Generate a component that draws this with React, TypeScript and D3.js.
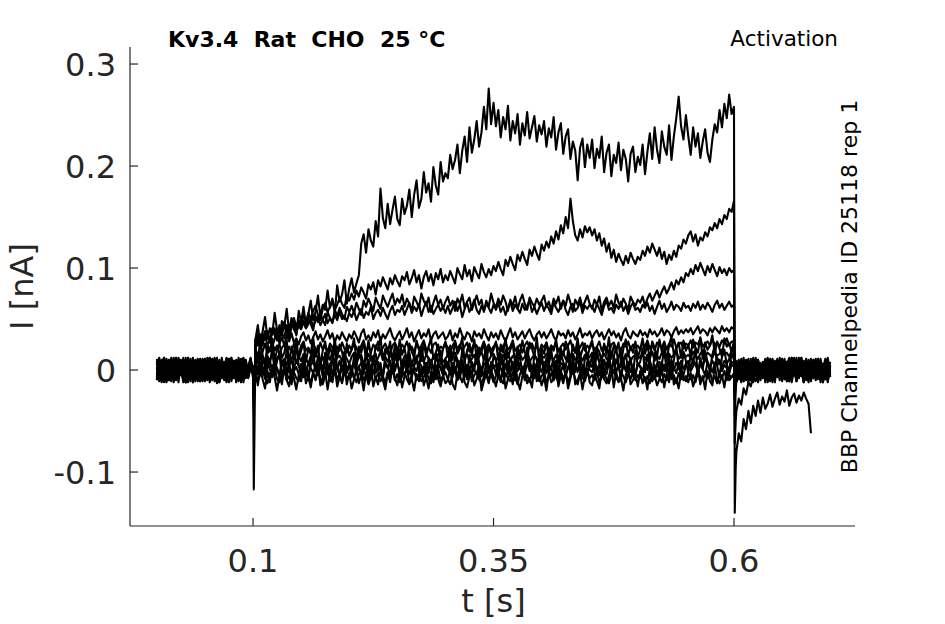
import * as d3 from "d3";

const WIDTH = 945;
const HEIGHT = 624;
const MARGIN = { top: 47, right: 90, bottom: 98, left: 130 };
const INNER_W = WIDTH - MARGIN.left - MARGIN.right;
const INNER_H = HEIGHT - MARGIN.top - MARGIN.bottom;

const X_DOMAIN: [number, number] = [-0.0279, 0.7258];
const Y_DOMAIN: [number, number] = [-0.1529, 0.3167];
const X_TICKS = [0.1, 0.35, 0.6];
const X_TICK_LABELS = ["0.1", "0.35", "0.6"];
const Y_TICKS = [-0.1, 0, 0.1, 0.2, 0.3];
const Y_TICK_LABELS = ["-0.1", "0", "0.1", "0.2", "0.3"];

const TITLE = "Kv3.4  Rat  CHO  25 °C";
const PROTOCOL = "Activation";
const SOURCE = "BBP Channelpedia ID 25118 rep 1";

// sampling 2.5 ms, step on at 0.1 s, off at 0.6 s; currents in pA (1e-3 nA)
const DT = 0.0025;
const STEP_ON = 0.1;
const STEP_OFF = 0.6;

// holding segment, t = 0 .. 0.1
const PRE_1 = [3, -8, 5, 11, -2, -10, 6, 1, -7, 9, -4, 12, -6, 2, -11, 7, -3, 10, -9, 4, -1, 8, -12, 5, -5, 11, -3, -8, 6, 0, -10, 9, 3, -6, 12, -4, -9, 5, -2, 7, 3];
const PRE_2 = [-6, 4, 10, -3, -11, 7, 2, -8, 12, -5, 0, 9, -10, 3, 6, -12, 8, -2, -7, 11, 4, -9, 1, 10, -4, -13, 6, -1, 8, -6, 11, -3, -8, 5, 2, -10, 9, -5, 4, 12, -2];
const PRE_3 = [9, -4, -11, 2, 7, -6, 12, -1, -9, 5, -3, 10, -12, 4, 8, -7, 1, 11, -5, -10, 6, -2, 9, -8, 3, 12, -6, -1, 7, -11, 2, 10, -4, -9, 6, -3, 11, -7, 1, 8, -5];
const PRE_4 = [-10, 5, 1, -7, 11, -3, 8, -12, 4, -1, 9, -6, 2, 12, -8, -4, 7, -11, 3, 10, -5, -9, 6, 0, 11, -7, 4, -2, -10, 8, -3, 12, -6, 5, -11, 2, 9, -4, -8, 6, 1];
const PRE_5 = [4, 11, -6, -2, 8, -10, 3, -5, 12, -8, 1, 7, -12, 5, -3, 10, -7, 2, -9, 6, 11, -4, -1, 9, -11, 4, 8, -6, -2, 12, -9, 3, 7, -5, 0, 10, -12, 6, -3, 9, -6];
const PRE_6 = [-3, -9, 7, 12, -5, 2, -11, 8, -1, -7, 10, -4, 5, -12, 3, 9, -6, 1, 11, -8, -2, 6, -10, 4, 12, -3, -7, 9, -5, 2, 8, -11, 0, 6, -4, 11, -9, 3, -6, 10, -4];
const PRE_7 = [11, -2, 4, -9, -5, 10, -7, 1, 8, -12, 6, -3, 12, -8, 2, -6, 9, -1, -11, 5, 7, -10, 3, 11, -4, -8, 10, -2, 5, -12, 4, 9, -6, 1, -9, 7, 12, -5, -1, 8, 2];
const PRE_8 = [-7, 3, -12, 1, 9, -4, 6, -10, 2, 11, -5, 8, -1, -9, 4, 12, -7, 5, -3, 10, -11, 2, 7, -6, 0, 9, -12, 4, -2, 11, -8, 6, -4, 10, -1, -10, 5, 8, -7, 3, -3];
const PRE_9 = [2, -10, 6, 8, -12, 5, -3, 10, -6, 1, 9, -8, -2, 12, -5, 3, -11, 7, 0, -9, 11, -4, 4, -10, 8, -1, -7, 12, -3, 6, -12, 2, 9, -5, 5, -8, 10, -2, -6, 7, 4];
const PRE_10 = [-4, 8, -9, 3, 10, -6, -1, 12, -10, 5, -2, 7, -8, 4, 11, -12, 1, 6, -5, 9, -7, 3, 12, -3, -9, 5, -11, 8, 2, -6, 10, -4, -1, 7, -10, 4, 11, -8, -2, 6, -1];
const PRE_11 = [7, -11, 2, 12, -5, 9, -8, -1, 11, -3, 5, -12, 8, 1, -7, 10, -4, -10, 6, 3, -9, 12, -2, -6, 9, 0, -11, 4, 7, -5, 11, -8, 2, -3, 10, -12, 5, 8, -6, 1, -2];
const PRE_12 = [-9, 6, -2, -12, 4, 10, -7, 3, -5, 12, -1, -10, 7, 2, -8, 11, -4, 5, -11, 9, 1, -6, 10, -3, -9, 6, -12, 3, 8, -4, 0, 12, -7, 5, -10, 2, 9, -5, -1, 11, -8];
const PRE_13 = [5, 12, -6, 0, -10, 8, -3, 11, -9, 4, -1, 7, -12, 9, 3, -5, 10, -8, 1, -11, 6, -2, 12, -7, 4, -10, 8, 2, -4, 11, -6, -1, 9, -12, 5, 3, -8, 10, -3, 7, 0];

// capacitive transients [peak, recovery] at step on / step off
const ON_SPIKE = [[-117, -35], [-40, -15], [-34, -12], [-30, -10], [-28, -9], [-24, -8], [-22, -6], [-20, -6], [-18, -8], [-15, -5], [-26, -8], [-20, -7], [-24, -9]];
const OFF_SPIKE = [[-140, -95], [-72, -50], [-45, -20], [-30, -10], [-26, -8], [-22, -8], [-20, -6], [-16, -5], [-14, -6], [-12, -4], [-18, -6], [-15, -5], [-24, -9]];

// test pulse segment, t = 0.1025 .. 0.6
const STEP_1 = [
  30, 44, 25, 38, 52, 31, 41, 35, 56, 39, 29, 48, 43, 60, 37, 51, 45, 34, 58, 47,
  62, 44, 55, 68, 49, 57, 73, 52, 64, 59, 78, 61, 70, 56, 83, 67, 74, 88, 65, 80,
  90, 76, 85, 93, 124, 133, 115, 138, 127, 121, 146, 131, 178, 149, 139, 163, 143, 157, 170, 148,
  142, 168, 153, 161, 177, 150, 172, 186, 159, 168, 194, 174, 183, 165, 199, 181, 172, 204, 185, 193,
  188, 211, 197, 206, 221, 193, 215, 229, 204, 238, 213, 226, 244, 219, 233, 258, 236, 276, 241, 262,
  239, 255, 228, 248, 236, 259, 225, 244, 232, 251, 221, 242, 230, 253, 227, 238, 249, 224, 240, 231,
  244, 219, 237, 228, 248, 216, 233, 242, 212, 229, 236, 207, 224, 215, 186, 218, 227, 199, 221, 208,
  226, 198, 217, 208, 229, 194, 213, 221, 190, 211, 203, 223, 196, 216, 207, 185, 212, 219, 194, 209,
  201, 221, 192, 214, 232, 207, 238, 216, 203, 234, 219, 211, 240, 206, 229, 247, 268, 239, 226, 250,
  229, 211, 238, 219, 232, 208, 224, 236, 213, 204, 226, 241, 233, 255, 238, 261, 247, 270, 251, 258,
];
const STEP_2 = [
  26, 35, 30, 24, 38, 33, 29, 41, 36, 31, 44, 38, 47, 40, 35, 46, 51, 43, 49, 45,
  53, 47, 56, 50, 58, 63, 54, 49, 60, 66, 57, 62, 68, 59, 64, 71, 65, 61, 73, 68,
  75, 69, 78, 72, 81, 76, 70, 84, 79, 86, 74, 88, 82, 91, 85, 79, 90, 84, 93, 87,
  82, 92, 88, 96, 84, 90, 98, 86, 93, 80, 91, 97, 87, 94, 83, 95, 89, 99, 86, 93,
  88, 97, 91, 85, 100, 94, 89, 103, 92, 98, 87, 101, 95, 90, 104, 96, 91, 99, 93, 102,
  97, 106, 99, 93, 108, 102, 111, 104, 98, 113, 107, 116, 109, 103, 118, 112, 121, 114, 108, 123,
  117, 126, 120, 131, 124, 136, 128, 142, 134, 150, 139, 168, 146, 132, 127, 138, 130, 141, 135, 140,
  132, 138, 127, 134, 122, 129, 116, 124, 110, 118, 106, 114, 108, 103, 112, 105, 115, 109, 104, 111,
  108, 117, 112, 121, 115, 124, 118, 112, 120, 109, 116, 104, 113, 108, 117, 111, 122, 119, 128, 124,
  132, 136, 126, 133, 122, 130, 127, 135, 131, 140, 137, 144, 139, 148, 143, 152, 148, 158, 155, 166,
];
const STEP_3 = [
  30, 24, 35, 28, 38, 32, 27, 40, 34, 29, 42, 36, 31, 44, 38, 46, 40, 35, 47, 42,
  48, 41, 51, 45, 39, 53, 47, 55, 49, 44, 57, 51, 46, 59, 53, 61, 55, 50, 62, 57,
  63, 56, 66, 60, 54, 68, 62, 70, 64, 58, 71, 65, 60, 73, 67, 62, 69, 75, 64, 70,
  66, 74, 62, 70, 65, 58, 72, 67, 61, 75, 68, 63, 71, 57, 66, 73, 64, 69, 60, 67,
  72, 63, 68, 58, 70, 65, 74, 61, 67, 71, 59, 66, 73, 64, 69, 57, 68, 62, 75, 66,
  61, 70, 64, 73, 67, 58, 69, 63, 72, 60, 68, 74, 65, 59, 71, 66, 62, 70, 64, 68,
  73, 62, 67, 59, 70, 65, 72, 60, 68, 63, 74, 66, 57, 69, 64, 71, 61, 67, 73, 65,
  60, 69, 64, 72, 58, 67, 71, 63, 68, 61, 74, 66, 62, 70, 65, 59, 72, 67, 63, 69,
  66, 72, 63, 70, 75, 68, 73, 78, 71, 77, 82, 75, 80, 86, 79, 88, 84, 91, 86, 95,
  92, 99, 94, 103, 97, 105, 99, 93, 102, 96, 104, 98, 92, 101, 95, 99, 93, 100, 96, 98,
];
const STEP_4 = [
  26, 32, 24, 35, 30, 38, 29, 36, 41, 33, 39, 34, 44, 37, 31, 42, 46, 38, 43, 40,
  47, 41, 45, 50, 43, 48, 52, 44, 49, 55, 46, 51, 47, 54, 49, 57, 50, 53, 48, 56,
  52, 58, 49, 55, 60, 51, 57, 54, 62, 50, 56, 59, 53, 61, 55, 50, 58, 63, 54, 59,
  57, 63, 54, 60, 66, 56, 62, 58, 65, 53, 61, 67, 57, 63, 55, 60, 64, 58, 62, 56,
  63, 55, 61, 67, 58, 64, 52, 60, 66, 57, 62, 69, 59, 55, 63, 58, 65, 61, 56, 64,
  59, 66, 57, 62, 54, 61, 67, 58, 64, 60, 56, 65, 59, 63, 68, 57, 62, 55, 61, 66,
  58, 64, 60, 55, 66, 61, 57, 63, 68, 59, 54, 62, 65, 58, 61, 67, 56, 63, 60, 64,
  62, 57, 65, 60, 54, 63, 68, 59, 61, 56, 64, 60, 67, 58, 63, 55, 62, 66, 59, 61,
  57, 64, 61, 66, 58, 63, 55, 62, 68, 60, 65, 57, 61, 67, 59, 64, 62, 58, 66, 61,
  63, 58, 65, 61, 67, 59, 64, 60, 66, 62, 57, 64, 68, 61, 65, 59, 63, 67, 62, 64,
];
const STEP_5 = [
  24, 30, 21, 27, 33, 25, 29, 22, 31, 35, 26, 32, 24, 34, 28, 36, 27, 31, 25, 33,
  37, 29, 34, 26, 32, 38, 30, 35, 28, 33, 39, 31, 36, 27, 34, 30, 37, 32, 28, 35,
  31, 38, 33, 27, 36, 40, 30, 34, 29, 37, 32, 39, 28, 35, 31, 36, 41, 33, 29, 34,
  38, 30, 35, 41, 32, 37, 28, 34, 39, 31, 36, 33, 40, 29, 35, 38, 31, 34, 37, 30,
  33, 39, 29, 36, 32, 41, 34, 30, 37, 35, 28, 38, 33, 36, 31, 40, 34, 29, 37, 32,
  36, 30, 39, 33, 28, 35, 41, 32, 37, 30, 34, 38, 31, 36, 40, 33, 29, 35, 38, 32,
  37, 31, 35, 40, 33, 29, 38, 34, 36, 31, 39, 33, 37, 30, 35, 41, 32, 36, 34, 38,
  31, 36, 39, 33, 37, 30, 35, 40, 34, 38, 32, 36, 29, 37, 41, 34, 31, 38, 35, 33,
  39, 34, 37, 32, 40, 35, 38, 33, 36, 41, 34, 39, 37, 32, 38, 42, 35, 39, 36, 40,
  37, 41, 35, 39, 43, 36, 40, 38, 34, 41, 37, 42, 39, 36, 43, 38, 41, 37, 42, 40,
];
const STEP_6 = [
  20, 14, 23, 18, 26, 16, 21, 27, 19, 24, 15, 22, 25, 18, 23, 17, 26, 20, 15, 24,
  28, 19, 22, 16, 25, 21, 17, 27, 20, 24, 18, 26, 22, 15, 23, 19, 27, 21, 17, 24,
  20, 26, 22, 16, 24, 29, 19, 23, 17, 25, 21, 28, 18, 22, 26, 20, 16, 24, 27, 21,
  18, 25, 22, 28, 19, 23, 17, 26, 21, 24, 29, 20, 22, 17, 25, 27, 19, 23, 21, 26,
  22, 17, 24, 28, 20, 25, 19, 23, 27, 18, 21, 26, 24, 16, 22, 28, 20, 25, 19, 23,
  26, 21, 18, 24, 27, 20, 23, 29, 19, 22, 25, 17, 24, 28, 21, 26, 20, 23, 18, 25,
  22, 27, 19, 24, 21, 28, 18, 23, 26, 20, 24, 29, 21, 17, 25, 22, 27, 19, 24, 21,
  26, 20, 23, 28, 19, 24, 22, 17, 25, 27, 21, 24, 19, 26, 23, 28, 20, 25, 22, 24,
  20, 26, 23, 29, 21, 25, 19, 27, 24, 22, 28, 20, 26, 23, 30, 22, 25, 27, 21, 26,
  24, 29, 22, 27, 25, 31, 23, 26, 28, 24, 30, 25, 27, 23, 29, 26, 31, 24, 28, 28,
];
const STEP_7 = [
  14, 7, 16, 10, 4, 13, 9, 17, 6, 12, 15, 8, 11, 5, 14, 10, 18, 7, 13, 9,
  16, 11, 6, 14, 9, 17, 12, 5, 13, 8, 15, 10, 18, 7, 12, 14, 9, 16, 11, 6,
  13, 17, 8, 12, 15, 6, 11, 16, 9, 14, 7, 12, 18, 10, 13, 8, 15, 11, 17, 9,
  12, 7, 14, 10, 16, 5, 13, 9, 17, 11, 8, 15, 12, 6, 14, 10, 16, 13, 8, 11,
  15, 9, 13, 17, 10, 7, 14, 12, 16, 8, 11, 15, 6, 13, 18, 10, 12, 9, 14, 16,
  10, 13, 8, 15, 11, 17, 9, 14, 12, 6, 16, 10, 13, 18, 8, 12, 15, 11, 7, 14,
  12, 16, 9, 13, 10, 15, 7, 14, 17, 11, 8, 13, 16, 10, 12, 14, 9, 15, 11, 13,
  17, 10, 14, 8, 12, 16, 11, 9, 15, 13, 7, 14, 18, 10, 12, 16, 9, 13, 15, 11,
  13, 16, 10, 15, 12, 18, 9, 14, 11, 17, 13, 10, 16, 12, 15, 19, 11, 14, 17, 13,
  15, 12, 18, 14, 11, 16, 19, 13, 17, 15, 12, 18, 14, 16, 20, 15, 17, 13, 19, 18,
];
const STEP_8 = [
  6, -1, 8, -4, 3, 9, 0, -3, 7, 2, -5, 5, 10, -1, 6, -4, 2, 9, 4, -2,
  7, 1, -5, 5, 8, 0, -3, 6, 3, 10, -2, 4, -4, 7, 1, 9, -1, 5, -3, 6,
  2, 8, -2, 4, -5, 7, 3, 10, 0, -3, 5, 8, 1, -4, 6, 2, 9, -1, 4, 7,
  -2, 5, 9, 1, -4, 6, 3, -1, 8, 4, -3, 7, 0, 10, 2, -2, 6, 3, -5, 5,
  8, 0, 4, -3, 7, 2, 9, -1, 5, 3, -4, 6, 10, 1, -2, 7, 4, -3, 8, 2,
  5, -2, 9, 3, 6, -4, 1, 8, 4, -1, 7, 2, -3, 5, 10, 0, 6, -2, 4, 8,
  1, 6, -3, 4, 9, 2, -1, 7, 5, -4, 3, 8, 0, 6, -2, 10, 4, 1, -3, 7,
  3, 9, -1, 5, 2, -4, 7, 4, 0, 8, -2, 6, 3, 10, -1, 5, 8, 2, -3, 6,
  4, -1, 7, 3, 9, 1, -3, 6, 8, 2, 5, -2, 10, 4, 0, 7, 3, 9, 1, 6,
  8, 3, 10, 5, 1, 7, 4, 11, 6, 2, 9, 5, 12, 7, 3, 9, 6, 11, 8, 7,
];
const STEP_9 = [
  -2, -10, -5, 3, -8, -13, -3, -7, 2, -9, -12, -4, 1, -10, -6, -14, -2, -8, -11, -3,
  -7, 2, -6, -12, -3, -9, 0, -8, -14, -5, -1, -11, -6, 2, -9, -4, -13, -2, -8, -5,
  1, -7, -12, -4, -1, -10, -5, -14, -7, 0, -9, -3, -11, -6, -13, -2, -8, 1, -10, -4,
  -12, -6, -2, -9, -14, -5, 0, -10, -4, -11, -7, -1, -8, -13, -3, -9, 2, -11, -6, -2,
  -9, -14, -4, -1, -10, -6, -12, -3, -8, 1, -11, -5, -2, -9, -13, -7, -1, -10, -4, -12,
  -6, 0, -9, -13, -3, -8, -11, -2, -7, -14, -4, 1, -10, -5, -12, -3, -8, -1, -11, -6,
  -2, -12, -7, -3, -10, -5, -13, -1, -8, -4, -11, -6, 0, -9, -14, -3, -7, -11, -2, -8,
  -5, -10, -1, -12, -7, -3, -9, -13, -4, 0, -8, -11, -2, -6, -12, -4, -9, -1, -10, -5,
  -8, -2, -11, -6, -13, -3, -9, 0, -7, -12, -4, -10, -1, -8, -5, -13, -3, -9, -6, -11,
  -3, -9, -5, -12, -1, -7, -10, -4, -8, -2, -11, -6, -13, -3, -8, -1, -10, -5, -7, -3,
];
const STEP_10 = [
  4, -4, 7, 1, -6, 3, 9, -2, 5, -1, -5, 8, 2, -7, 4, 10, -1, 3, -4, 6,
  1, -6, 8, 2, -3, 5, -5, 7, 0, 3, -4, 6, 10, -1, 4, -6, 2, 8, -2, 5,
  0, 9, -4, 3, 7, -2, 5, -7, 2, 10, -3, 4, 1, -6, 8, 3, -4, 6, -1, 9,
  -5, 2, 6, -2, 8, -4, 4, 10, 0, -6, 3, 7, -3, 9, 1, -5, 5, 2, -4, 8,
  1, -3, 7, 3, -6, 5, 10, -2, 4, -5, 8, 0, -4, 6, 2, -7, 9, 3, -1, 5,
  -4, 7, 2, -6, 5, 9, -2, 3, -5, 8, 1, -3, 6, 10, -1, 4, -6, 7, 2, -2,
  8, -3, 4, 1, -5, 9, 3, -2, 6, -6, 2, 7, -4, 5, 10, -1, 3, -5, 8, 0,
  -2, 6, 3, -5, 9, 1, -4, 7, 2, -3, 10, 4, -6, 5, 0, 8, -2, 3, -5, 6,
  3, -4, 7, 0, 9, -2, 5, -6, 3, 8, -1, 6, -4, 10, 2, -3, 7, 1, -5, 5,
  9, -1, 4, 7, -3, 6, 1, -5, 8, 3, -2, 7, 4, 10, -1, 5, 2, -4, 6, 3,
];
const STEP_11 = [
  12, -4, 18, 3, -8, 14, 6, 21, -2, 9, 16, -7, 4, 19, 1, -9, 11, 22, 5, -3,
  15, 0, -10, 8, 20, -1, 13, 4, -6, 17, 7, -9, 12, 23, 2, -5, 10, 18, -2, 6,
  -7, 14, 3, 19, 9, -4, 21, 1, -9, 11, 16, -1, 7, -8, 15, 22, 4, -3, 13, 8,
  20, -5, 10, 2, 17, -8, 6, 14, -2, 23, 9, -6, 12, 3, -10, 16, 5, 19, -3, 11,
  1, 18, -7, 13, 7, -4, 21, 10, -9, 15, 4, -1, 19, 8, -6, 12, 22, 0, -5, 14,
  9, -8, 16, 3, 20, -2, 11, 6, -10, 17, 13, -4, 1, 22, 7, -7, 15, 10, -3, 18,
  -6, 12, 4, 21, -1, 9, -9, 16, 8, 2, 19, -5, 13, -2, 23, 6, -8, 11, 17, 3,
  14, -3, 20, 7, -7, 10, 1, 18, -4, 13, 22, 5, -9, 9, 16, -1, 12, -6, 19, 4,
  8, 21, -2, 15, 3, -8, 17, 11, -5, 6, 20, -1, 14, -9, 10, 23, 2, -4, 18, 9,
  -3, 16, 6, 22, -6, 12, 1, 19, 8, -2, 15, 24, 4, -7, 13, 20, 5, -1, 17, 10,
];
const STEP_12 = [
  -3, -15, 2, -9, -18, -1, -12, 5, -7, -20, -4, -14, 3, -10, -16, 0, -8, -19, -5, -11,
  4, -13, -6, -17, -2, -10, 6, -15, -8, -1, -19, -4, -12, 2, -16, -7, -11, 5, -14, -3,
  -18, -9, 1, -13, -5, -20, -2, -11, 4, -16, -7, -14, 0, -10, -19, -3, -12, 6, -8, -15,
  -1, -17, -6, 3, -13, -9, -20, -4, -11, 2, -15, -7, -18, -2, -12, 5, -9, -16, -5, -13,
  -10, 1, -14, -19, -3, -8, 4, -12, -17, -6, -1, -15, -9, 3, -20, -11, -4, -13, 0, -7,
  -16, -5, -12, 2, -18, -9, -3, -14, 6, -10, -19, -6, -1, -13, -8, -17, 4, -11, -4, -15,
  -7, -20, -2, -12, -9, 3, -16, -5, -13, -1, -18, -8, 5, -14, -10, -3, -19, -6, 1, -12,
  -15, -4, -11, -18, 0, -9, -13, -6, 4, -17, -2, -12, -8, -20, -5, 2, -14, -10, -3, -16,
  -1, -13, -7, -19, 3, -11, -5, -15, -9, 1, -17, -4, -12, 6, -14, -8, -18, -2, -10, -6,
  -12, -3, -16, -8, 2, -14, -6, -19, -1, -11, -15, 4, -9, -13, -5, -17, 0, -10, -7, -4,
];
const STEP_13 = [
  22, 10, 28, 15, 6, 25, 18, 31, 9, 20, 26, 12, 17, 29, 7, 23, 14, 30, 11, 19,
  27, 8, 21, 16, 32, 13, 24, 5, 19, 28, 10, 22, 15, 30, 12, 25, 18, 6, 26, 14,
  20, 31, 9, 23, 17, 27, 11, 29, 14, 6, 24, 19, 32, 10, 21, 16, 28, 8, 25, 13,
  30, 15, 22, 7, 26, 18, 12, 29, 20, 9, 27, 14, 23, 31, 11, 17, 25, 6, 21, 28,
  13, 24, 10, 29, 16, 21, 32, 8, 19, 26, 14, 30, 11, 22, 18, 27, 7, 24, 15, 20,
  28, 9, 25, 17, 31, 12, 20, 26, 6, 23, 15, 29, 18, 10, 27, 21, 13, 32, 8, 22,
  16, 27, 11, 24, 19, 30, 7, 21, 14, 28, 22, 9, 25, 17, 31, 12, 20, 26, 10, 23,
  29, 13, 22, 18, 8, 26, 15, 32, 11, 24, 19, 27, 6, 21, 30, 14, 23, 17, 28, 12,
  20, 31, 16, 25, 10, 28, 22, 13, 30, 18, 26, 9, 24, 33, 15, 21, 27, 12, 29, 19,
  25, 14, 30, 22, 17, 32, 11, 27, 20, 24, 34, 16, 28, 21, 13, 31, 23, 26, 18, 29,
];

// tail segment, t = 0.6025 .. (0.68 for sweep 1, 0.7 for the rest)
const POST_1 = [-80, -62, -70, -48, -58, -40, -52, -35, -45, -30, -42, -27, -38, -33, -24, -36, -28, -22, -34, -26, -31, -20, -35, -27, -23, -32, -25, -30, -22, -28, -33, -62];
const POST_2 = [-40, -28, -34, -18, -24, -12, -16, -6, -11, -2, -8, 4, -5, -10, 3, -7, 6, -3, 9, -6, 2, -9, 5, -4, 8, -11, 1, 7, -5, 10, -2, -8, 4, -6, 11, -3, 6, -9, 2, 5];
const POST_3 = [-8, 2, -12, 5, -3, 8, -6, 10, -1, -9, 4, -5, 11, -2, 7, -10, 3, -7, 9, 1, -4, 6, -11, 2, 8, -3, 12, -6, 0, -9, 5, -2, 10, -7, 3, -12, 6, 1, -5, 8];
const POST_4 = [5, -7, 9, -2, -10, 6, 1, -5, 11, -8, 3, -1, 8, -12, 4, 10, -3, -6, 7, 0, -9, 5, 12, -4, 2, -11, 6, -2, 9, -7, 1, 11, -5, 3, -9, 8, -1, -6, 10, -3];
const POST_5 = [-10, -3, 7, -8, 4, 11, -6, 0, 9, -12, 5, 2, -7, 10, -1, -9, 6, -4, 12, -5, 3, 8, -11, 1, 7, -3, -8, 10, -6, 4, -12, 9, 2, -5, 11, -2, 5, -9, 6, -1];
const POST_6 = [-6, 8, -1, 12, -4, 5, -10, 3, 9, -7, 1, -3, 10, -8, 6, -12, 4, 2, -5, 11, -2, 7, -9, 0, 8, -6, 3, 12, -4, -10, 5, 1, -7, 9, -3, 6, -11, 2, 10, -5];
const POST_7 = [7, -9, 3, -4, 10, -2, 5, -8, 12, -3, -6, 8, -1, 4, -11, 2, 9, -5, 6, -7, 11, -3, 1, -10, 5, 8, -6, 2, -12, 7, -1, 4, -8, 10, -4, 3, -9, 6, 0, -5];
const POST_8 = [-12, 2, -6, 5, -1, 8, -10, 3, -4, 9, 1, -8, 6, -3, 11, -9, 4, -2, 10, -6, 2, -11, 7, -5, 0, 12, -7, 3, -1, 8, -10, 5, -4, 9, -2, -8, 6, 1, -12, 4];
const POST_9 = [3, 10, -5, -11, 6, -2, 4, -8, 9, -1, -4, 7, -12, 8, -3, 5, -7, 11, -2, 2, -9, 6, -5, 12, 1, -10, 4, -6, 8, -3, 10, -11, 3, -1, 7, -8, 2, 11, -6, -4];
const POST_10 = [-4, 6, -10, 3, -2, -8, 11, -5, 2, -9, 7, -3, 4, -6, 10, -4, -7, 5, -1, -11, 8, -2, 6, -12, 1, 9, -5, 3, -8, 11, -1, -6, 7, -10, 4, 2, -9, 5, 12, -7];
const POST_11 = [9, -6, 3, -11, 7, 1, -8, 12, -4, 5, -10, 2, 10, -5, -1, 8, -12, 6, -3, 11, -7, 4, -9, 0, 12, -2, -6, 9, -11, 3, 7, -4, 10, -8, 1, 5, -12, 8, -1, -5];
const POST_12 = [-11, 4, -3, 9, -8, -1, 6, -12, 2, 10, -5, 7, -9, 1, -4, 11, -7, 3, -10, 5, -2, 8, -6, 12, -3, -9, 4, 0, -12, 6, -1, 9, -8, 2, -5, 11, -4, 7, -10, 3];
const POST_13 = [2, -9, 11, -4, 6, -12, 1, 8, -6, 10, -2, -7, 5, 12, -3, -10, 7, 0, 9, -5, 4, -11, 6, -1, 10, -8, 3, 12, -5, -2, 8, -9, 1, 11, -6, 4, -12, 7, -3, 5];

const PRE = [PRE_1, PRE_2, PRE_3, PRE_4, PRE_5, PRE_6, PRE_7, PRE_8, PRE_9, PRE_10, PRE_11, PRE_12, PRE_13];
const STEP = [STEP_1, STEP_2, STEP_3, STEP_4, STEP_5, STEP_6, STEP_7, STEP_8, STEP_9, STEP_10, STEP_11, STEP_12, STEP_13];
const POST = [POST_1, POST_2, POST_3, POST_4, POST_5, POST_6, POST_7, POST_8, POST_9, POST_10, POST_11, POST_12, POST_13];

type Pt = [number, number];

function buildSweep(k: number): Pt[] {
  const pts: Pt[] = [];
  PRE[k].forEach((v, i) => pts.push([i * DT, v / 1000]));
  pts.push([STEP_ON + 0.0008, ON_SPIKE[k][0] / 1000]);
  pts.push([STEP_ON + 0.0018, ON_SPIKE[k][1] / 1000]);
  STEP[k].forEach((v, i) => pts.push([STEP_ON + (i + 1) * DT, v / 1000]));
  pts.push([STEP_OFF + 0.0008, OFF_SPIKE[k][0] / 1000]);
  pts.push([STEP_OFF + 0.0018, OFF_SPIKE[k][1] / 1000]);
  POST[k].forEach((v, i) => pts.push([STEP_OFF + (i + 1) * DT, v / 1000]));
  return pts;
}

const FONT = "'DejaVu Sans', Verdana, sans-serif";
const AXIS_COLOR = "#262626";

export default function App() {
  const x = d3.scaleLinear().domain(X_DOMAIN).range([0, INNER_W]);
  const y = d3.scaleLinear().domain(Y_DOMAIN).range([INNER_H, 0]);
  const line = d3
    .line<Pt>()
    .x((d) => x(d[0]))
    .y((d) => y(d[1]));

  const sweeps = PRE.map((_, k) => buildSweep(k));

  return (
    <svg
      width={WIDTH}
      height={HEIGHT}
      viewBox={`0 0 ${WIDTH} ${HEIGHT}`}
      style={{ position: "absolute", left: 0, top: 0, background: "#fff" }}
      fontFamily={FONT}
    >
      <rect width={WIDTH} height={HEIGHT} fill="#fff" />
      <g transform={`translate(${MARGIN.left},${MARGIN.top})`}>
        {/* traces */}
        <g fill="none" stroke="#000" strokeWidth={2.1} strokeLinejoin="round">
          {sweeps.map((s, k) => (
            <path key={k} d={line(s) ?? ""} />
          ))}
        </g>

        {/* axes, ticks pointing inwards */}
        <g stroke={AXIS_COLOR} strokeWidth={1.2} fill="none">
          <line x1={0} x2={0} y1={0} y2={INNER_H} />
          <line x1={0} x2={INNER_W} y1={INNER_H} y2={INNER_H} />
          {Y_TICKS.map((t) => (
            <line key={t} x1={0} x2={8} y1={y(t)} y2={y(t)} />
          ))}
          {X_TICKS.map((t) => (
            <line key={t} x1={x(t)} x2={x(t)} y1={INNER_H} y2={INNER_H - 8} />
          ))}
        </g>

        <g fill={AXIS_COLOR} fontSize={32}>
          {Y_TICKS.map((t, i) => (
            <text key={t} x={-14} y={y(t)} dy="0.36em" textAnchor="end">
              {Y_TICK_LABELS[i]}
            </text>
          ))}
          {X_TICKS.map((t, i) => (
            <text key={t} x={x(t)} y={INNER_H + 46} textAnchor="middle">
              {X_TICK_LABELS[i]}
            </text>
          ))}
          <text x={x(0.35)} y={INNER_H + 86} textAnchor="middle">
            t [s]
          </text>
          <text transform={`translate(-97,${INNER_H / 2}) rotate(-90)`} textAnchor="middle">
            I [nA]
          </text>
        </g>
      </g>

      <text x={168} y={47} fontSize={22} fontWeight="bold" fill="#000" style={{ whiteSpace: "pre" }}>
        {TITLE}
      </text>
      <text x={838} y={46} fontSize={21.5} textAnchor="end" fill="#000">
        {PROTOCOL}
      </text>
      <text
        transform={`translate(857,${MARGIN.top + INNER_H / 2}) rotate(-90)`}
        fontSize={22}
        textAnchor="middle"
        fill="#000"
      >
        {SOURCE}
      </text>
    </svg>
  );
}
